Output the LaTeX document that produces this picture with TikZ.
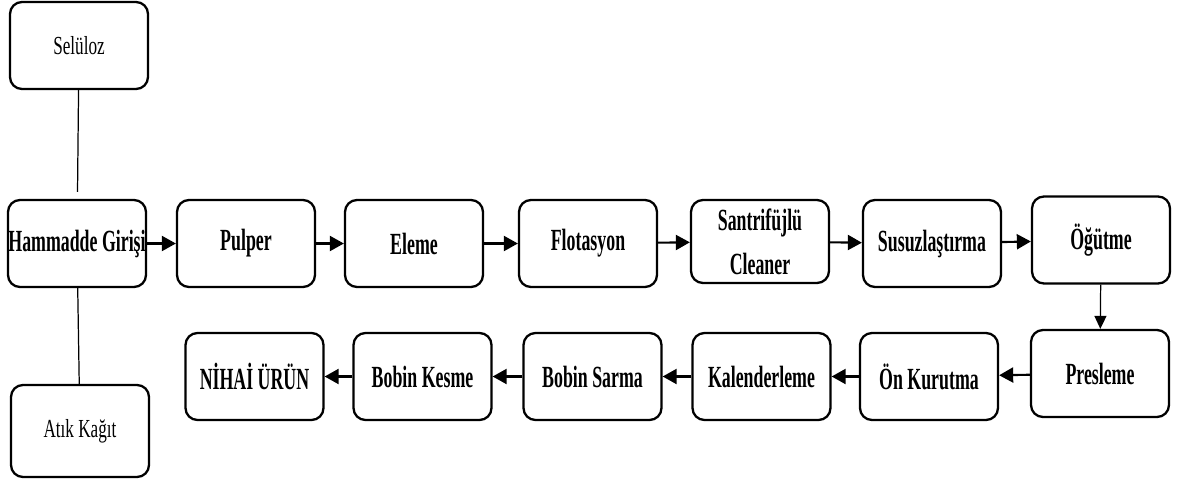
\documentclass[tikz,border=0pt]{standalone}
\usepackage{fontspec}
\setmainfont{Liberation Serif}[FakeStretch=0.58]
\newfontfamily\plainfont{Liberation Serif}[FakeStretch=0.66]
\usetikzlibrary{positioning,arrows.meta}
\tikzset{
process/.style={draw, line width=1.3pt, rounded corners=0.24cm,
  minimum width=2.76cm, minimum height=1.74cm, inner sep=0pt, align=center,
  font=\fontsize{17.5}{25}\selectfont\bfseries},
source/.style={process, font=\plainfont\fontsize{14.8}{17}\selectfont},
flow/.style={line width=1.2pt, -{Triangle[length=0.28cm,width=0.3cm]}},
drop/.style={line width=0.7pt, -{Triangle[length=0.26cm,width=0.24cm]}},
feed/.style={line width=0.7pt}}

\begin{document}
\begin{tikzpicture}
    \useasboundingbox (0,0) rectangle (23.58,-9.58);
    % hammadde
    \node[source] (selu) at (1.58,-0.91) {Selüloz};
    \node[process] (ham) at (1.54,-4.87) {Hammadde Girişi};
    \node[source, minimum height=1.84cm] (atik) at (1.6,-8.62) {Atık Kağıt};
    \draw[feed, shorten >=0.14cm] (selu) -- (ham);
    \draw[feed] (ham) -- (atik);
    % ust sira
    \node[process] (pulp) at (4.92,-4.87) {Pulper};
    \node[process] (elem) at (8.28,-4.87) {Eleme};
    \node[process] (flot) at (11.76,-4.87) {Flotasyon};
    \node[process, minimum height=1.66cm] (sant) at (15.2,-4.83) {Santrifüjlü\\Cleaner};
    \node[process] (susu) at (18.64,-4.87) {Susuzlaştırma};
    \node[process] (ogut) at (22.02,-4.80) {Öğütme};
    % alt sira
    \node[process] (pres) at (22.0,-7.47) {Presleme};
    \node[process] (onku) at (18.58,-7.53) {Ön Kurutma};
    \node[process] (kale) at (15.23,-7.53) {Kalenderleme};
    \node[process] (sarm) at (11.85,-7.53) {Bobin Sarma};
    \node[process] (kesm) at (8.45,-7.53) {Bobin Kesme};
    \node[process] (niha) at (5.09,-7.53) {NİHAİ ÜRÜN};
    \draw[flow] (ham) -- (pulp);
    \draw[flow] (pulp) -- (elem);
    \draw[flow] (elem) -- (flot);
    \draw[flow] (flot) -- (sant);
    \draw[flow] (sant) -- (susu);
    \draw[flow] (susu) -- (ogut);
    \draw[drop] (ogut) -- (pres);
    \draw[flow] (pres) -- (onku);
    \draw[flow] (onku) -- (kale);
    \draw[flow] (kale) -- (sarm);
    \draw[flow] (sarm) -- (kesm);
    \draw[flow] (kesm) -- (niha);
\end{tikzpicture}
\end{document}
